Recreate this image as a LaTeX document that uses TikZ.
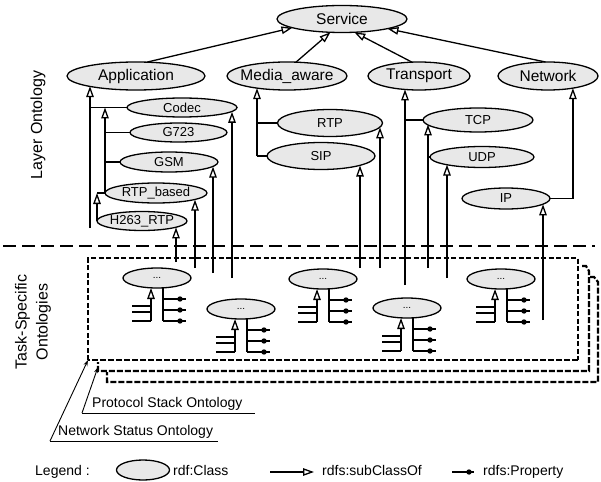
\documentclass[tikz,border=0pt]{standalone}
\usepackage{fontspec}
\setmainfont{Liberation Sans}
\usetikzlibrary{shapes.geometric,arrows.meta,calc}
\newcommand\zw[1]{\makebox[0pt]{#1}}
\begin{document}
\begin{tikzpicture}[x=1pt,y=-1pt,
  cls/.style={ellipse, draw, line width=1.3pt, fill=black!9, inner sep=0pt, outer sep=0pt},
  big/.style={cls, minimum height=28pt, font=\fontsize{15.5}{18}\selectfont},
  mid/.style={cls, font=\fontsize{13}{15}\selectfont},
  task/.style={cls, minimum width=68pt, minimum height=20pt, font=\fontsize{10}{12}\selectfont},
  conn/.style={line width=1.3pt},
  sub/.style={conn, -{Triangle[open,length=11pt,width=7.5pt]}},
  txt/.style={inner sep=0pt, font=\fontsize{14}{16}\selectfont},
  side/.style={inner sep=0pt, rotate=90, align=center, font=\fontsize{16}{21}\selectfont},
  sepline/.style={line width=1.8pt, dash pattern=on 13pt off 6pt},
  thindash/.style={line width=1.2pt, dash pattern=on 5pt off 2.5pt},
  thickdash/.style={line width=2.2pt, dash pattern=on 6pt off 2pt},
  pointer/.style={line width=0.9pt, -{Stealth[length=6pt,width=4pt]}},
  uline/.style={line width=1pt}
]
\fill[white] (0,0) rectangle (601,481);
\useasboundingbox (0,0) rectangle (601,481);

% ---------- layer ontology classes ----------
\node[big, minimum width=130pt, minimum height=27pt] (serv) at (342,19) {\zw{Service}};
\node[big, minimum width=138pt] (app) at (136,76) {\zw{Application}};
\node[big, minimum width=120pt] (media) at (287,76) {\zw{Media\_aware}};
\node[big, minimum width=102pt] (trans) at (419,76) {\zw{Transport}};
\node[big, minimum width=100pt] (net) at (548,76) {\zw{Network}};

\node[mid, minimum width=110pt, minimum height=19pt] (codec) at (182,107.5) {\zw{Codec}};
\node[mid, minimum width=97pt, minimum height=19pt] (g723) at (178.5,132.5) {\zw{G723}};
\node[mid, minimum width=98pt, minimum height=20pt] (gsm) at (169,162) {\zw{GSM}};
\node[mid, minimum width=102pt, minimum height=20pt] (rtpb) at (156,193) {\zw{RTP\_based}};
\node[mid, minimum width=90pt, minimum height=19pt] (h263) at (142,221) {\zw{H263\_RTP}};

\node[mid, minimum width=105pt, minimum height=27pt] (rtp) at (330,123) {\zw{RTP}};
\node[mid, minimum width=108pt, minimum height=27pt] (sip) at (321,156) {\zw{SIP}};
\node[mid, minimum width=110pt, minimum height=24pt] (tcp) at (478,120) {\zw{TCP}};
\node[mid, minimum width=104pt, minimum height=21pt] (udp) at (482,157) {\zw{UDP}};
\node[mid, minimum width=88pt, minimum height=21pt] (ip) at (506,198.5) {\zw{IP}};

% ---------- side labels ----------
\node[side] (lo) at (38,125) {Layer Ontology};
\node[side] (tso) at (33,322) {Task-Specific\\Ontologies};

% ---------- subclass links to Service ----------
\draw[sub] (app.52) -- (serv.190);
\draw[sub] (media.57) -- (serv.229);
\draw[sub] (trans.117) -- (serv.313);
\draw[sub] (net.100) -- (serv.348);

% ---------- feet of the long links ----------
\coordinate (fapp) at (90,228);
\coordinate (fh263) at (176,262);
\coordinate (frtpb) at (195,268);
\coordinate (fgsm) at (213,273);
\coordinate (fcodec) at (232,278);
\coordinate (fsip) at (360,268);
\coordinate (frtp) at (380,268);
\coordinate (ftrans) at (405,285);
\coordinate (ftcp) at (428,268);
\coordinate (fudp) at (447,278);
\coordinate (fip) at (543,320);

% Application branch
\draw[sub] (fapp) -- (fapp |- app.192.8);
\draw[conn] (codec.west) -- (codec.west -| fapp);
\draw[sub] (rtpb.west) -- (rtpb.west |- codec.west);
\draw[conn] (g723.west) -- (g723.west -| rtpb.west);
\draw[conn] (gsm.west) -- (gsm.west -| rtpb.west);
\draw[sub] (h263.west) -- (h263.west |- rtpb.west);
\draw[conn] (h263.west |- rtpb.west) -- (rtpb.west);

% Media_aware branch
\draw[sub] (sip.west -| media.202) -- (media.202);
\draw[conn] (sip.west) -- (sip.west -| media.202);
\draw[conn] (rtp.west) -- (rtp.west -| media.202);

% Transport branch
\draw[sub] (ftrans) -- (ftrans |- trans.223.9);
\draw[conn] (tcp.west) -- (tcp.west -| ftrans);
\draw[sub] (ftcp) -- (ftcp |- tcp.185.7);
\draw[conn] (udp.west) -- (udp.west -| ftcp);

% Network branch
\draw[sub] (ip.east -| net.334.1) -- (net.334.1);
\draw[conn] (ip.east) -- (ip.east -| net.334.1);

% long links from the task-specific ontologies
\draw[sub] (fh263) -- (fh263 |- h263.349.6);
\draw[sub] (frtpb) -- (frtpb |- rtpb.350.6);
\draw[sub] (fgsm) -- (fgsm |- gsm.354.3);
\draw[sub] (fcodec) -- (fcodec |- codec.355.5);
\draw[sub] (fsip) -- (fsip |- sip.346.5);
\draw[sub] (frtp) -- (frtp |- rtp.355.3);
\draw[sub] (fudp) -- (fudp |- udp.192.5);
\draw[sub] (fip) -- (fip |- ip.351.3);

% ---------- separator ----------
\coordinate (sepL) at (3,246);
\coordinate (sepR) at (595,246);
\draw[sepline] (sepL) -- (sepR);

% ---------- task-specific ontology frames ----------
\coordinate (r1c) at (88,360);
\coordinate (r2c) at (98,367);
\draw[thindash] (88,360) -- (88,258) -- (578,258) -- (578,360);
\draw[thickdash] (578,360) -- (88,360);
\draw[thickdash] (582,266) -- (586,266) -- (589,271) -- (589,371) -- (98,371) -- (98,362);
\draw[thickdash] (590,277) -- (594,277) -- (598,282) -- (598,382) -- (107,382) -- (107,372);

% ---------- task-specific classes ----------
\node[task] (t1) at (157,278) {\zw{...}};
\node[task] (t2) at (241,309) {\zw{...}};
\node[task] (t3) at (323,279) {\zw{...}};
\node[task] (t4) at (407,308) {\zw{...}};
\node[task] (t5) at (501,279) {\zw{...}};

\foreach \n in {t1,t2,t3,t4,t5}{
  \draw[sub] ($(\n)+(-6,43)$) -- ($(\n)+(-6,10)$);
  \foreach \dy in {28,34,43} \draw[conn] ($(\n)+(-25,\dy)$) -- ($(\n)+(-6,\dy)$);
  \draw[conn] ($(\n)+(6,10)$) -- ($(\n)+(6,43)$);
  \foreach \dy in {21,32,43}{
    \draw[conn] ($(\n)+(6,\dy)$) -- ($(\n)+(29,\dy)$);
    \fill ($(\n)+(23,\dy)$) circle (2.7);
  }
}

% ---------- ontology name labels ----------
\node[txt, anchor=base west] (psoT) at (92,407) {Protocol Stack Ontology};
\coordinate (psoA) at (82,413);
\coordinate (psoB) at (255,413);
\draw[uline] (psoA) -- (psoB);
\draw[pointer] (psoA) -- (r2c);

\node[txt, anchor=base west] (nsoT) at (58,435) {Network Status Ontology};
\coordinate (nsoA) at (50,441);
\coordinate (nsoB) at (218,441);
\draw[uline] (nsoA) -- (nsoB);
\draw[pointer] (nsoA) -- (r1c);

% ---------- legend ----------
\node[txt, anchor=base west] (leg) at (35,475) {Legend :};
\node[cls, minimum width=53pt, minimum height=20pt] (legc) at (143,470) {};
\node[txt, anchor=base west] (legct) at (173,475) {rdf:Class};
\coordinate (ls1) at (270,472);
\coordinate (ls2) at (314,472);
\draw[sub] (ls1) -- (ls2);
\node[txt, anchor=base west] (legst) at (322,475) {rdfs:subClassOf};
\coordinate (lp1) at (452,472);
\coordinate (lp2) at (474,472);
\draw[conn] (lp1) -- (lp2);
\fill (469,472) circle (2.7);
\node[txt, anchor=base west] (legpt) at (483,475) {rdfs:Property};
\end{tikzpicture}
\end{document}
